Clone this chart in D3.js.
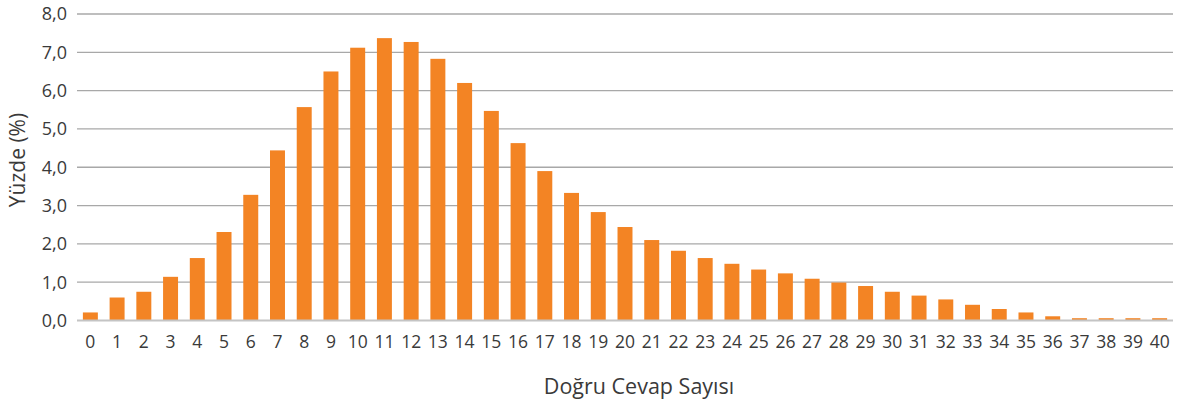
<!DOCTYPE html>
<html>
<head>
<meta charset="utf-8">
<script src="https://cdn.jsdelivr.net/npm/d3@7"></script>
<style>
  body { margin: 0; background: #fff; }
  svg text { font-family: "Open Sans", Lato, sans-serif; fill: #3a3a3a; }
</style>
</head>
<body>
<svg id="chart" width="1190" height="405"></svg>
<script>
(function() {

  // Doğru cevap sayısı 0..40
  var categories = d3.range(0, 41).map(String);
  var values = [
    0.21, 0.60, 0.75, 1.14, 1.63, 2.31, 3.28, 4.44, 5.57, 6.50,
    7.12, 7.37, 7.27, 6.83, 6.20, 5.47, 4.63, 3.90, 3.33, 2.83,
    2.44, 2.10, 1.82, 1.63, 1.48, 1.33, 1.23, 1.09, 0.99, 0.90,
    0.75, 0.65, 0.55, 0.41, 0.30, 0.21, 0.11, 0.06, 0.06, 0.06,
    0.06
  ];
  var yTicks = [0, 1, 2, 3, 4, 5, 6, 7, 8];

  var svg = d3.select('#chart');
  var left = 77, right = 1173, top = 14, bottom = 320.5;

  var x = d3.scaleBand()
    .domain(categories)
    .range([left, right])
    .paddingInner(0.44)
    .paddingOuter(0.22);

  var y = d3.scaleLinear()
    .domain([0, 8])
    .range([bottom, top]);

  var fmt = function(d) { return d3.format('.1f')(d).replace('.', ','); };

  // gridlines
  svg.append('g')
    .selectAll('line')
    .data(yTicks.filter(function(d) { return d > 0; }))
    .enter().append('line')
    .attr('x1', left).attr('x2', right)
    .attr('y1', function(d) { return y(d); })
    .attr('y2', function(d) { return y(d); })
    .attr('stroke', '#a8a8a8')
    .attr('stroke-width', 1.3);

  // bars
  svg.append('g')
    .selectAll('rect')
    .data(values)
    .enter().append('rect')
    .attr('x', function(d, i) { return x(categories[i]); })
    .attr('y', function(d) { return y(d); })
    .attr('width', x.bandwidth())
    .attr('height', function(d) { return y(0) - y(d); })
    .attr('fill', '#f38424');

  // baseline
  svg.append('line')
    .attr('x1', left).attr('x2', right)
    .attr('y1', y(0)).attr('y2', y(0))
    .attr('stroke', '#c4c4c4')
    .attr('stroke-width', 2);

  // y labels
  svg.append('g')
    .selectAll('text')
    .data(yTicks)
    .enter().append('text')
    .attr('x', 67)
    .attr('y', function(d) { return y(d); })
    .attr('dy', '0.36em')
    .attr('text-anchor', 'end')
    .style('font-size', '18px')
    .text(fmt);

  // x labels
  svg.append('g')
    .selectAll('text')
    .data(categories)
    .enter().append('text')
    .attr('x', function(d) { return x(d) + x.bandwidth() / 2; })
    .attr('y', 348)
    .attr('text-anchor', 'middle')
    .style('font-size', '17.5px')
    .text(function(d) { return d; });

  // axis titles
  svg.append('text')
    .attr('x', 639)
    .attr('y', 394)
    .attr('text-anchor', 'middle')
    .style('font-size', '21.5px')
    .text('Doğru Cevap Sayısı');

  svg.append('text')
    .attr('transform', 'translate(25,160) rotate(-90)')
    .attr('text-anchor', 'middle')
    .style('font-size', '21px')
    .text('Yüzde (%)');

})();
</script>
</body>
</html>
